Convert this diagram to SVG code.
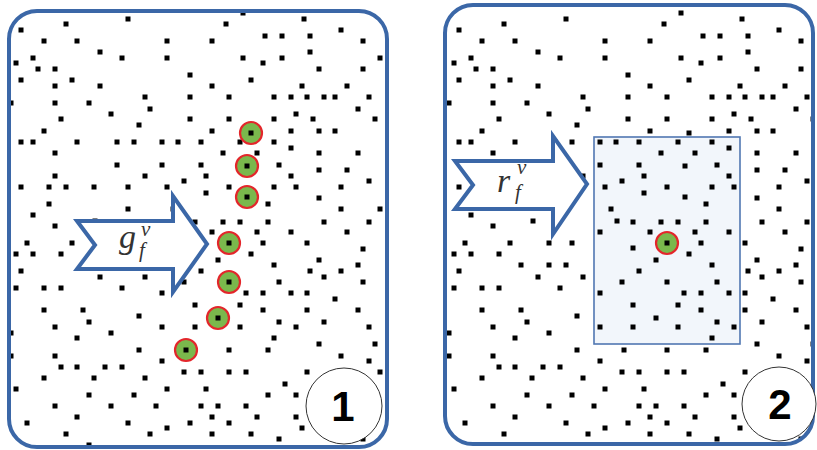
<svg xmlns="http://www.w3.org/2000/svg" xmlns:xlink="http://www.w3.org/1999/xlink" width="817" height="450" viewBox="0 0 817 450">
<style>
.panel{fill:none;stroke:#3b67a7;stroke-width:4}
.arrow{fill:#fff;stroke:#3b67a7;stroke-width:4;stroke-linejoin:miter}
.dots{fill:none;stroke:#000;stroke-width:5;stroke-linecap:square}
.lbl{font-family:"Liberation Serif","DejaVu Serif",serif;font-style:italic;fill:#333}
.big{font-size:34px}
.sm{font-size:21px}
.hit{fill:#7ab84c;stroke:#e3262b;stroke-width:2.2}
.hitc{fill:#000}
.num{fill:#fff;stroke:#333;stroke-width:1}
.numt{font-family:"Liberation Sans",Arial,sans-serif;font-weight:bold;font-size:42px;fill:#000;text-anchor:middle}
</style>
<defs>
<clipPath id="c1"><rect x="9" y="11" width="378" height="436" rx="28"/></clipPath>
<clipPath id="c2"><rect x="445" y="5" width="368" height="439" rx="28"/></clipPath>
<path id="dotset" class="dots" d="M243 13h.01M128 19h.01M304 19h.01M66 24h.01M226 24h.01M21 30h.01M341 30h.01M265 36h.01M282 36h.01M310 36h.01M44 41h.01M77 41h.01M167 41h.01M212 41h.01M363 41h.01M100 52h.01M310 52h.01M33 58h.01M122 58h.01M167 58h.01M243 58h.01M282 58h.01M380 58h.01M16 63h.01M263 63h.01M38 69h.01M55 69h.01M319 69h.01M363 69h.01M190 75h.01M21 80h.01M72 80h.01M251 80h.01M55 86h.01M100 86h.01M212 86h.01M302 86h.01M347 86h.01M145 97h.01M190 97h.01M229 97h.01M274 97h.01M291 97h.01M307 97h.01M324 97h.01M335 97h.01M369 97h.01M11 103h.01M55 103h.01M89 103h.01M150 109h.01M358 109h.01M111 114h.01M296 114h.01M61 119h.01M190 119h.01M229 119h.01M274 119h.01M313 119h.01M375 119h.01M139 125h.01M44 131h.01M212 131h.01M291 131h.01M319 131h.01M335 131h.01M251 133h.01M21 142h.01M33 142h.01M77 142h.01M117 142h.01M134 142h.01M162 142h.01M178 142h.01M201 142h.01M240 142h.01M274 142h.01M291 148h.01M55 153h.01M223 153h.01M257 153h.01M319 153h.01M358 153h.01M117 165h.01M162 165h.01M201 165h.01M279 165h.01M247 166h.01M319 170h.01M347 170h.01M55 176h.01M145 176h.01M206 176h.01M291 176h.01M184 181h.01M369 181h.01M21 187h.01M49 187h.01M66 187h.01M94 187h.01M128 187h.01M167 187h.01M229 187h.01M274 187h.01M296 187h.01M341 187h.01M206 193h.01M247 197h.01M319 198h.01M49 204h.01M268 204h.01M128 209h.01M173 209h.01M341 209h.01M380 209h.01M33 215h.01M95 221h.01M179 221h.01M195 222h.01M223 222h.01M240 222h.01M268 222h.01M324 222h.01M369 222h.01M55 226h.01M162 232h.01M212 232h.01M257 232h.01M291 232h.01M347 232h.01M27 243h.01M72 243h.01M111 243h.01M134 243h.01M229 243h.01M263 243h.01M307 243h.01M195 248h.01M363 249h.01M16 254h.01M33 254h.01M61 254h.01M251 254h.01M218 260h.01M319 260h.01M83 265h.01M111 265h.01M128 265h.01M274 265h.01M358 265h.01M21 271h.01M201 271h.01M310 271h.01M341 271h.01M100 277h.01M145 277h.01M324 277h.01M184 282h.01M229 282h.01M279 282h.01M363 282h.01M16 288h.01M44 288h.01M61 288h.01M122 288h.01M162 293h.01M246 293h.01M263 293h.01M291 293h.01M307 293h.01M335 299h.01M195 305h.01M240 305h.01M44 310h.01M83 310h.01M263 310h.01M307 310h.01M358 310h.01M139 316h.01M218 318h.01M89 322h.01M279 322h.01M324 322h.01M55 327h.01M162 327h.01M195 327h.01M240 327h.01M296 327h.01M369 327h.01M11 333h.01M111 333h.01M77 338h.01M274 338h.01M319 344h.01M375 344h.01M139 350h.01M186 350h.01M229 350h.01M268 350h.01M11 356h.01M55 356h.01M341 356h.01M162 361h.01M369 361h.01M61 367h.01M77 367h.01M105 367h.01M122 367h.01M184 372h.01M201 372h.01M229 372h.01M246 372h.01M307 372h.01M380 372h.01M44 378h.01M94 378h.01M145 378h.01M285 384h.01M16 389h.01M167 389h.01M206 389h.01M89 395h.01M134 395h.01M268 395h.01M296 395h.01M55 406h.01M111 406h.01M156 406h.01M201 406h.01M218 406h.01M246 406h.01M77 417h.01M212 417h.01M257 417h.01M296 417h.01M27 423h.01M128 423h.01M190 423h.01M229 423h.01M167 428h.01M302 428h.01M66 434h.01M150 434h.01M212 434h.01M251 434h.01M279 439h.01M363 439h.01M89 445h.01"/>
</defs>
<rect width="817" height="450" fill="#fff"/>

<g id="region">
<rect x="594" y="137" width="146" height="207" fill="#f2f6fb" stroke="#5077b2" stroke-width="1.6"/>
</g>

<g id="dots1" clip-path="url(#c1)"><use xlink:href="#dotset" href="#dotset"/></g>
<g id="dots2" clip-path="url(#c2)"><use xlink:href="#dotset" href="#dotset" transform="translate(438,0)"/></g>

<g id="panel1"><rect class="panel" x="9" y="11" width="378" height="436" rx="28"/></g>
<g id="panel2"><rect class="panel" x="445" y="5" width="368" height="439" rx="28"/></g>

<g id="arrow1">
<path class="arrow" d="M77 221H173V196L207 244L173 292V269H77L95 245Z"/>
<text class="lbl big" x="119" y="248">g</text>
<text class="lbl sm" x="141" y="236">v</text>
<text class="lbl sm" x="139" y="257">f</text>
</g>
<g id="arrow2">
<path class="arrow" d="M455 161H553V136L587 184L553 234V209H455L473 185Z"/>
<text class="lbl big" x="497" y="192">r</text>
<text class="lbl sm" x="517" y="174">v</text>
<text class="lbl sm" x="515" y="199">f</text>
</g>

<g id="hits1">
<circle class="hit" cx="251" cy="133" r="11"/><rect class="hitc" x="248.5" y="130.5" width="5" height="5"/>
<circle class="hit" cx="247" cy="166" r="11"/><rect class="hitc" x="244.5" y="163.5" width="5" height="5"/>
<circle class="hit" cx="247" cy="197" r="11"/><rect class="hitc" x="244.5" y="194.5" width="5" height="5"/>
<circle class="hit" cx="229" cy="243" r="11"/><rect class="hitc" x="226.5" y="240.5" width="5" height="5"/>
<circle class="hit" cx="229" cy="282" r="11"/><rect class="hitc" x="226.5" y="279.5" width="5" height="5"/>
<circle class="hit" cx="218" cy="318" r="11"/><rect class="hitc" x="215.5" y="315.5" width="5" height="5"/>
<circle class="hit" cx="186" cy="350" r="11"/><rect class="hitc" x="183.5" y="347.5" width="5" height="5"/>
</g>
<g id="hit2">
<circle class="hit" cx="667" cy="243" r="11"/><rect class="hitc" x="664.5" y="240.5" width="5" height="5"/>
</g>

<g id="badge1">
<circle class="num" cx="344" cy="406" r="38"/>
<text class="numt" x="343" y="421">1</text>
</g>
<g id="badge2">
<circle class="num" cx="779" cy="404" r="37"/>
<text class="numt" x="780" y="419">2</text>
</g>
</svg>
